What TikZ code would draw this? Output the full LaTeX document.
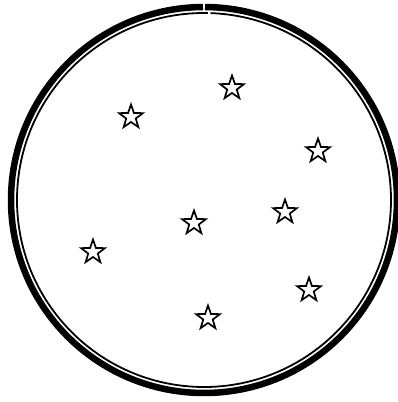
\documentclass[tikz,border=0pt]{standalone}
\usetikzlibrary{shapes.geometric}
\tikzset{
  starmark/.style={star, star points=5, star point ratio=2.5, minimum size=25pt, inner sep=0pt, draw=black, line width=1.7pt, fill=white},
  outerring/.style={draw=black, line width=6.5pt},
  innerring/.style={draw=black, line width=1.8pt}
}
\begin{document}
\begin{tikzpicture}[x=1pt,y=-1pt]
\useasboundingbox (0,0) rectangle (398,402);
\coordinate (c) at (204,200);
% outer thick ring with a tiny gap at the top
\draw[outerring] (c) ++(270.3:193) arc[start angle=270.3, end angle=629.7, radius=193];
% inner thin ring
\draw[innerring] (c) ++(272:187) arc[start angle=272, end angle=631.2, radius=187];
% stars
\node[starmark] (s1) at (131,117) {};
\node[starmark] (s2) at (232,88) {};
\node[starmark] (s3) at (318,151) {};
\node[starmark] (s4) at (194,223) {};
\node[starmark] (s5) at (285,212) {};
\node[starmark] (s6) at (93,252) {};
\node[starmark] (s7) at (309,290) {};
\node[starmark] (s8) at (208,318) {};
\end{tikzpicture}
\end{document}
